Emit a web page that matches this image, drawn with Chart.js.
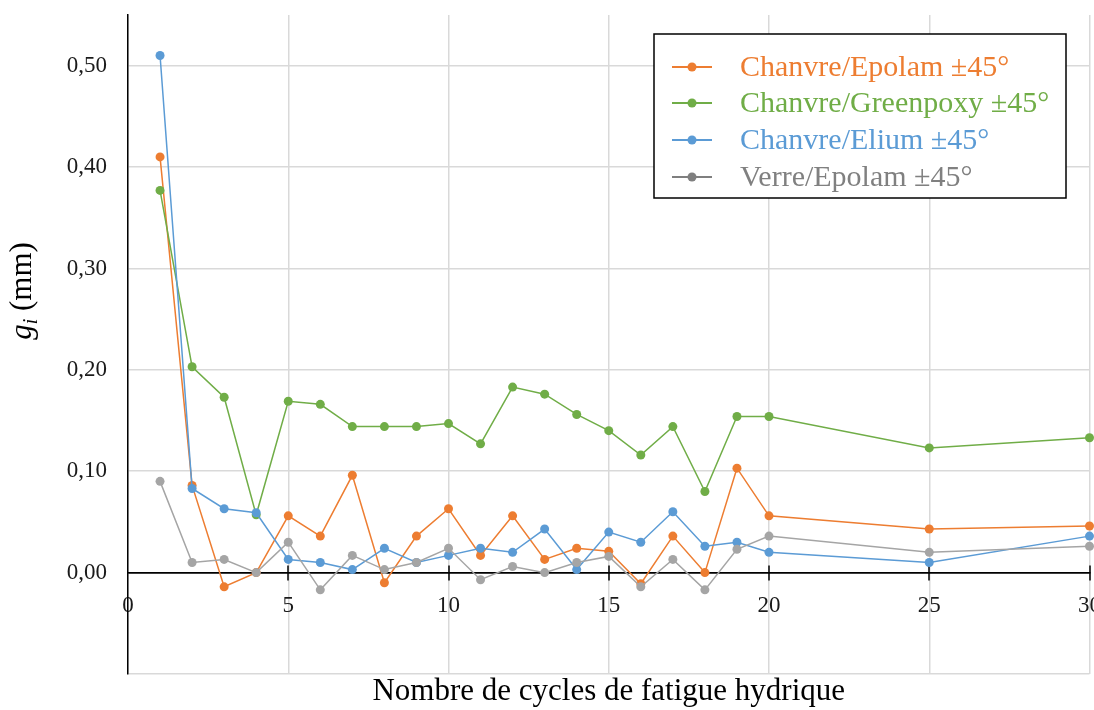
<!DOCTYPE html>
<html lang="fr">
<head>
<meta charset="utf-8">
<title>Nombre de cycles de fatigue hydrique</title>
<script src="https://cdn.jsdelivr.net/npm/chart.js@4.4.1/dist/chart.umd.min.js"></script>
<style>
    html, body { margin: 0; padding: 0; background: #fff; }
    #wrap { width: 1094px; height: 710px; position: relative; }
</style>
</head>
<body>
<div id="wrap"><canvas id="chart"></canvas></div>
<script>
// Data
const cycles = [1, 2, 3, 4, 5, 6, 7, 8, 9, 10, 11, 12, 13, 14, 15, 16, 17, 18, 19, 20, 25, 30];
const chanvreEpolam = [0.410, 0.086, -0.014, 0.000, 0.056, 0.036, 0.096, -0.010, 0.036, 0.063, 0.017,
    0.056, 0.013, 0.024, 0.021, -0.011, 0.036, 0.000, 0.103, 0.056, 0.043, 0.046];
const chanvreGreenpoxy = [0.377, 0.203, 0.173, 0.057, 0.169, 0.166, 0.144, 0.144, 0.144, 0.147, 0.127,
    0.183, 0.176, 0.156, 0.140, 0.116, 0.144, 0.080, 0.154, 0.154, 0.123, 0.133];
const chanvreElium = [0.510, 0.083, 0.063, 0.059, 0.013, 0.010, 0.003, 0.024, 0.010, 0.017, 0.024,
    0.020, 0.043, 0.003, 0.040, 0.030, 0.060, 0.026, 0.030, 0.020, 0.010, 0.036];
const verreEpolam = [0.090, 0.010, 0.013, 0.000, 0.030, -0.017, 0.017, 0.003, 0.010, 0.024, -0.007,
    0.006, 0.000, 0.010, 0.016, -0.014, 0.013, -0.017, 0.023, 0.036, 0.020, 0.026];

const seriesNames = ['Chanvre/Epolam ±45°', 'Chanvre/Greenpoxy ±45°', 'Chanvre/Elium ±45°', 'Verre/Epolam ±45°'];
const seriesValues = [chanvreEpolam, chanvreGreenpoxy, chanvreElium, verreEpolam];
const seriesColors = ['#ED7D31', '#70AD47', '#5B9BD5', '#A5A5A5'];
const legendTextColors = ['#ED7D31', '#70AD47', '#5B9BD5', '#808080'];
const xTicks = [0, 5, 10, 15, 20, 25, 30];

const FONT = '"Liberation Serif", "Times New Roman", serif';

// Build datasets (later series drawn on top, like the original)
const datasets = seriesValues.map(function(values, i) {
    return {
        label: seriesNames[i],
        data: values.map(function(v, j) { return { x: cycles[j], y: v }; }),
        borderColor: seriesColors[i],
        backgroundColor: seriesColors[i],
        borderWidth: 1.5,
        pointRadius: 4.5,
        pointHoverRadius: 4.5,
        pointBorderWidth: 0,
        tension: 0,
        clip: false,
        order: seriesValues.length - i
    };
});

// Extra drawing: crossing tick marks, y title with subscript, boxed legend
const extras = {
    id: 'extras',
    beforeDatasetsDraw(chart) {
        const ctx = chart.ctx;
        const xs = chart.scales.x;
        const y0 = chart.scales.y.getPixelForValue(0);
        ctx.save();
        ctx.strokeStyle = '#000';
        ctx.lineWidth = 1.5;
        xTicks.forEach(function(v) {
            if (v === 0) return;
            const px = Math.round(xs.getPixelForValue(v));
            ctx.beginPath();
            ctx.moveTo(px, y0 - 7);
            ctx.lineTo(px, y0 + 8);
            ctx.stroke();
        });
        ctx.restore();
    },
    afterDraw(chart) {
        const ctx = chart.ctx;
        ctx.save();

        // y axis title: g_i (mm)
        ctx.translate(31, 291);
        ctx.rotate(-Math.PI / 2);
        ctx.fillStyle = '#000';
        ctx.textBaseline = 'alphabetic';
        const mainFont = 'italic 31px ' + FONT;
        const subFont = 'italic 20px ' + FONT;
        const restFont = '31px ' + FONT;
        ctx.font = mainFont; const wg = ctx.measureText('g').width;
        ctx.font = subFont; const wi = ctx.measureText('i').width;
        ctx.font = restFont; const wr = ctx.measureText(' (mm)').width;
        let tx = -(wg + wi + wr) / 2;
        ctx.font = mainFont; ctx.fillText('g', tx, 0); tx += wg;
        ctx.font = subFont; ctx.fillText('i', tx, 6); tx += wi;
        ctx.font = restFont; ctx.fillText(' (mm)', tx, 0);
        ctx.restore();

        // legend box
        ctx.save();
        const bx = 654, by = 34, bw = 412, bh = 164;
        ctx.fillStyle = '#fff';
        ctx.fillRect(bx, by, bw, bh);
        ctx.strokeStyle = '#000';
        ctx.lineWidth = 1.5;
        ctx.strokeRect(bx, by, bw, bh);
        ctx.font = '30px ' + FONT;
        ctx.textBaseline = 'middle';
        const rowY = [67, 103, 140, 177];
        seriesNames.forEach(function(name, i) {
            const ly = rowY[i];
            const c = i === 3 ? '#7F7F7F' : seriesColors[i];
            ctx.strokeStyle = c;
            ctx.fillStyle = c;
            ctx.lineWidth = 2;
            ctx.beginPath();
            ctx.moveTo(672, ly);
            ctx.lineTo(712, ly);
            ctx.stroke();
            ctx.beginPath();
            ctx.arc(692, ly, 4.5, 0, Math.PI * 2);
            ctx.fill();
            ctx.fillStyle = legendTextColors[i];
            ctx.fillText(name, 740, ly + 1);
        });
        ctx.restore();
    }
};

const ctx = document.getElementById('chart').getContext('2d');
const chart = new Chart(ctx, {
    type: 'line',
    data: { datasets: datasets },
    plugins: [extras],
    options: {
        responsive: true,
        maintainAspectRatio: false,
        animation: false,
        devicePixelRatio: 1,
        layout: { padding: { top: 15, right: 4, bottom: 0, left: 0 } },
        plugins: {
            legend: { display: false },
            tooltip: { enabled: false }
        },
        scales: {
            x: {
                type: 'linear',
                position: { y: 0 },
                min: 0,
                max: 30,
                afterBuildTicks: function(scale) {
                    scale.ticks = xTicks.map(function(v) { return { value: v }; });
                },
                grid: {
                    color: '#d9d9d9',
                    lineWidth: 1.5,
                    drawTicks: true,
                    tickLength: 8,
                    tickColor: 'rgba(0,0,0,0)'
                },
                border: { display: true, color: '#000', width: 1.5 },
                ticks: {
                    font: { family: FONT, size: 23 },
                    color: '#1a1a1a',
                    padding: 12,
                    maxRotation: 0,
                    autoSkip: false
                },
                afterFit: function(scale) {
                    scale.paddingLeft = 0;
                    scale.paddingRight = 0;
                }
            },
            x2: {
                type: 'linear',
                position: 'bottom',
                min: 0,
                max: 30,
                grid: { display: false },
                border: { display: false },
                ticks: { display: false },
                title: {
                    display: true,
                    text: 'Nombre de cycles de fatigue hydrique',
                    font: { family: FONT, size: 31 },
                    color: '#000',
                    padding: { top: 0, bottom: 0 }
                },
                afterFit: function(scale) {
                    scale.height = 36;
                    scale.paddingLeft = 0;
                    scale.paddingRight = 0;
                }
            },
            y: {
                type: 'linear',
                position: 'left',
                min: -0.1,
                max: 0.55,
                ticks: {
                    stepSize: 0.1,
                    font: { family: FONT, size: 23 },
                    color: '#1a1a1a',
                    padding: 21,
                    callback: function(value) {
                        if (value < -0.001 || value > 0.52) return '';
                        return value.toFixed(2).replace('.', ',');
                    }
                },
                grid: {
                    drawTicks: false,
                    lineWidth: 1.5,
                    color: function(c) {
                        const v = c.tick ? c.tick.value : 0;
                        if (Math.abs(v) < 0.001) return '#000';
                        if (v > 0.52) return 'rgba(0,0,0,0)';
                        return '#d9d9d9';
                    }
                },
                border: { display: true, color: '#000', width: 1.5 },
                afterFit: function(scale) {
                    scale.width = 128;
                    scale.paddingTop = 0;
                    scale.paddingBottom = 0;
                }
            }
        }
    }
});
</script>
</body>
</html>
